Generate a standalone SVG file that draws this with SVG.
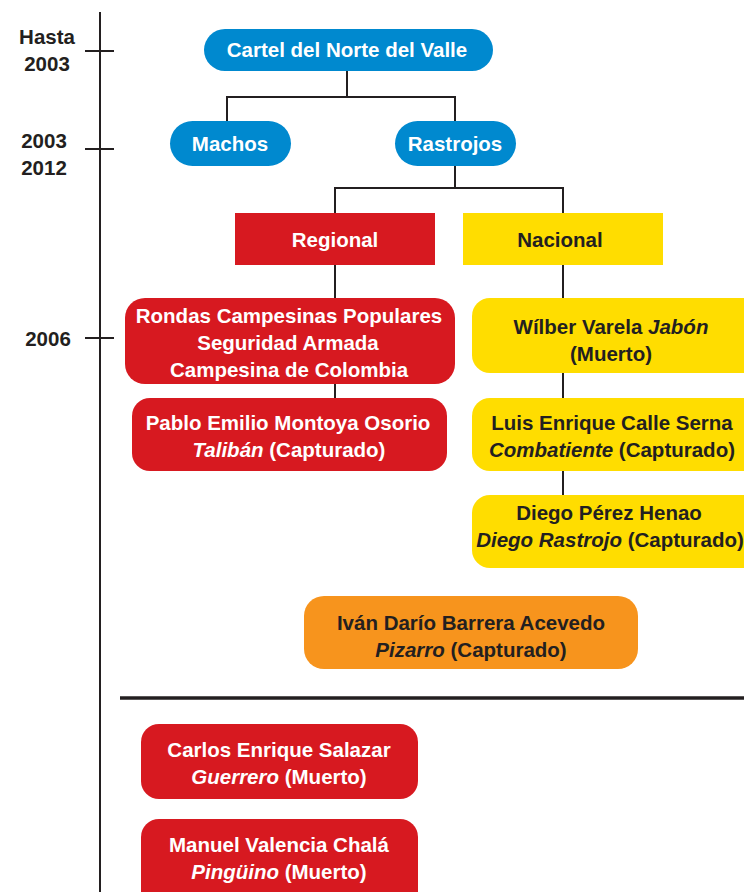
<svg xmlns="http://www.w3.org/2000/svg" width="744" height="892" viewBox="0 0 744 892">
  <style>
    text { font-family: "Liberation Sans", Arial, sans-serif; font-weight: bold; font-size: 20.5px; text-anchor: middle; }
    .w { fill: #ffffff; }
    .d { fill: #231f20; }
    .i { font-style: italic; }
    .blue { fill: #0089cf; }
    .red { fill: #d71920; }
    .yel { fill: #ffdd00; }
    .org { fill: #f7941d; }
    .ln { stroke: #231f20; stroke-width: 2; fill: none; }
  </style>

  <!-- timeline axis -->
  <g id="timeline">
    <line class="ln" x1="100" y1="12" x2="100" y2="892"/>
    <line class="ln" x1="85" y1="51" x2="114" y2="51"/>
    <line class="ln" x1="85" y1="149" x2="114" y2="149"/>
    <line class="ln" x1="85" y1="338" x2="114" y2="338"/>
    <text class="d" x="47" y="44">Hasta</text>
    <text class="d" x="47" y="71">2003</text>
    <text class="d" x="44" y="148">2003</text>
    <text class="d" x="44" y="175">2012</text>
    <text class="d" x="48" y="346">2006</text>
  </g>

  <!-- connectors -->
  <g id="connectors">
    <path class="ln" d="M347 71 V97 M227 121 V97 H455 V121"/>
    <path class="ln" d="M455 166 V188 M335 213 V188 H563 V213"/>
    <path class="ln" d="M335 265 V298 M335 384 V398"/>
    <path class="ln" d="M563 265 V298 M563 373 V398 M563 471 V495"/>
    <line x1="120" y1="698" x2="744" y2="698" stroke="#231f20" stroke-width="3.5"/>
  </g>

  <g id="cartel">
    <rect class="blue" x="204" y="29" width="289" height="42" rx="21"/>
    <text class="w" x="347" y="57" font-size="21">Cartel del Norte del Valle</text>
  </g>
  <g id="machos">
    <rect class="blue" x="170" y="121" width="121" height="45" rx="22.5"/>
    <text class="w" x="230" y="151">Machos</text>
  </g>
  <g id="rastrojos">
    <rect class="blue" x="395" y="121" width="121" height="45" rx="22.5"/>
    <text class="w" x="455" y="151">Rastrojos</text>
  </g>
  <g id="regional">
    <rect class="red" x="235" y="213" width="200" height="52"/>
    <text class="w" x="335" y="247">Regional</text>
  </g>
  <g id="nacional">
    <rect class="yel" x="463" y="213" width="200" height="52"/>
    <text class="d" x="560" y="247">Nacional</text>
  </g>
  <g id="rondas">
    <rect class="red" x="125" y="298" width="330" height="86" rx="20"/>
    <text class="w" x="289" y="323">Rondas Campesinas Populares</text>
    <text class="w" x="288" y="350">Seguridad Armada</text>
    <text class="w" x="289" y="377">Campesina de Colombia</text>
  </g>
  <g id="pablo">
    <rect class="red" x="132" y="398" width="315" height="73" rx="18"/>
    <text class="w" x="288" y="430">Pablo Emilio Montoya Osorio</text>
    <text class="w" x="289" y="457"><tspan class="i">Talibán</tspan> (Capturado)</text>
  </g>
  <g id="wilber">
    <rect class="yel" x="472" y="298" width="290" height="75" rx="18"/>
    <text class="d" x="611" y="334">Wílber Varela <tspan class="i">Jabón</tspan></text>
    <text class="d" x="611" y="361">(Muerto)</text>
  </g>
  <g id="luis">
    <rect class="yel" x="472" y="398" width="290" height="73" rx="18"/>
    <text class="d" x="612" y="430">Luis Enrique Calle Serna</text>
    <text class="d" x="612" y="457"><tspan class="i">Combatiente</tspan> (Capturado)</text>
  </g>
  <g id="diego">
    <rect class="yel" x="472" y="495" width="290" height="73" rx="18"/>
    <text class="d" x="609" y="520">Diego Pérez Henao</text>
    <text class="d" x="610" y="547" font-size="20">
      <tspan class="i">Diego Rastrojo</tspan> (Capturado)</text>
  </g>
  <g id="ivan">
    <rect class="org" x="304" y="596" width="334" height="73" rx="20"/>
    <text class="d" x="471" y="630">Iván Darío Barrera Acevedo</text>
    <text class="d" x="471" y="657"><tspan class="i">Pizarro</tspan> (Capturado)</text>
  </g>
  <g id="carlos">
    <rect class="red" x="141" y="724" width="277" height="75" rx="18"/>
    <text class="w" x="279" y="757">Carlos Enrique Salazar</text>
    <text class="w" x="279" y="784"><tspan class="i">Guerrero</tspan> (Muerto)</text>
  </g>
  <g id="manuel">
    <rect class="red" x="141" y="819" width="277" height="90" rx="18"/>
    <text class="w" x="279" y="852">Manuel Valencia Chalá</text>
    <text class="w" x="279" y="879"><tspan class="i">Pingüino</tspan> (Muerto)</text>
  </g>
</svg>
